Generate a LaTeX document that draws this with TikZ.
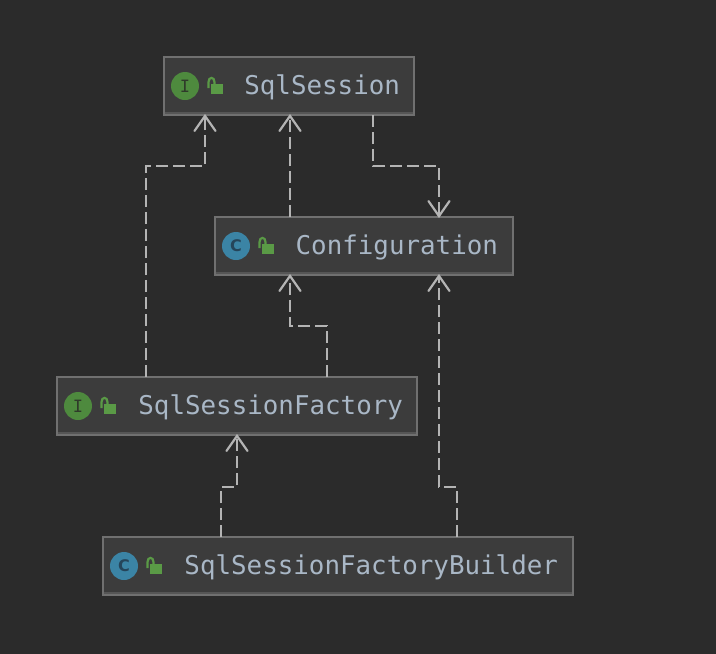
\documentclass[tikz,border=0pt]{standalone}
\usepackage{fontspec}
\setmonofont{DejaVu Sans Mono}
\newfontfamily\iconfont{DejaVu Sans}
\usetikzlibrary{arrows.meta}
\definecolor{bgc}{HTML}{2B2B2B}
\definecolor{boxc}{HTML}{3C3C3C}
\definecolor{edgec}{HTML}{707070}
\definecolor{shadec}{HTML}{565656}
\definecolor{linec}{HTML}{B4B4B4}
\definecolor{textc}{HTML}{A9B7C6}
\definecolor{greenc}{HTML}{4E8A3E}
\definecolor{lockc}{HTML}{5A9A46}
\definecolor{bluec}{HTML}{3B84A5}
\definecolor{glyphg}{HTML}{2F3A2A}
\definecolor{glyphb}{HTML}{25455A}
\tikzset{
  x=1pt,y=-1pt,
  umlbox/.style={draw=edgec,fill=boxc,line width=2pt,outer sep=0pt,inner ysep=0pt,inner xsep=15pt,
    minimum height=58pt,text width=#1,align=right,text=textc,text height=17pt,text depth=0pt,
    font=\ttfamily\fontsize{25.85pt}{26pt}\selectfont,
    path picture={\fill[shadec] ([yshift=3pt]path picture bounding box.south west) rectangle (path picture bounding box.south east);}},
  kindicon/.style={circle,minimum size=28pt,inner sep=0pt,outer sep=0pt},
  iface/.style={kindicon,fill=greenc,text=glyphg,font=\ttfamily\fontsize{17pt}{17pt}\selectfont},
  cls/.style={kindicon,fill=bluec,text=glyphb,font=\iconfont\bfseries\fontsize{16pt}{16pt}\selectfont},
  dep/.style={draw=linec,line width=2.2pt,dash pattern=on 12pt off 5pt,
    -{Straight Barb[length=15pt,width=21pt,line width=2.2pt,line cap=round]}},
  lockicon/.pic={
    \fill[lockc] (3,-2) rectangle (15,8);
    \draw[lockc,line width=2.2pt] (0.5,2) -- (0.5,-4) .. controls (0.5,-9.5) and (6.5,-9.5) .. (6.5,-4) -- (6.5,-2);
  }
}
\begin{document}
\begin{tikzpicture}
\useasboundingbox[fill=bgc] (0,0) rectangle (716,654);
\node[umlbox=222pt,inner xsep=14pt] (ss) at (289,86) {SqlSession};
\node[umlbox=268pt] (cfg) at (364,246) {Configuration};
\node[umlbox=332pt,inner xsep=14pt] (sf) at (237,406) {SqlSessionFactory};
\node[umlbox=440pt] (sb) at (338,566) {SqlSessionFactoryBuilder};

\node[iface] (ssk) at ([xshift=21pt]ss.west) {I};
\node[cls] (cfgk) at ([xshift=21pt]cfg.west) {C};
\node[iface] (sfk) at ([xshift=21pt]sf.west) {I};
\node[cls] (sbk) at ([xshift=21pt]sb.west) {C};
\pic at ([xshift=23pt]ssk.center) {lockicon};
\pic at ([xshift=23pt]cfgk.center) {lockicon};
\pic at ([xshift=23pt]sfk.center) {lockicon};
\pic at ([xshift=23pt]sbk.center) {lockicon};

\draw[dep] ([xshift=-91pt]sf.north) -- ++(0,-211) -| ([xshift=-84pt,yshift=1pt]ss.south);
\draw[dep] ([xshift=-74pt]cfg.north) -- ([xshift=1pt,yshift=1pt]ss.south);
\draw[dep] ([xshift=84pt]ss.south) -- ++(0,51) -| ([xshift=75pt,yshift=-1pt]cfg.north);
\draw[dep] ([xshift=90pt]sf.north) -- ++(0,-51) -| ([xshift=-74pt,yshift=1pt]cfg.south);
\draw[dep] ([xshift=-117pt]sb.north) -- ++(0,-50) -| ([yshift=1pt]sf.south);
\draw[dep] ([xshift=119pt]sb.north) -- ++(0,-50) -| ([xshift=75pt,yshift=1pt]cfg.south);
\end{tikzpicture}
\end{document}
